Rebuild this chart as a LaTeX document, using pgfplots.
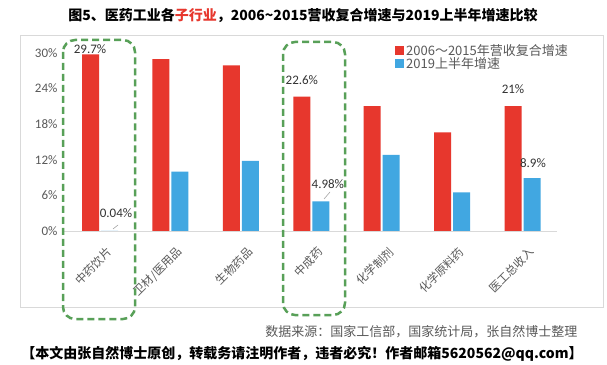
\documentclass[border=0pt]{standalone}
\usepackage{pgfplots}
\pgfplotsset{compat=1.18}
\usepackage{fontspec}
\setmainfont{Noto Sans CJK SC}
\newfontfamily\calfont{Carlito}
\definecolor{cred}{RGB}{231,55,45}
\definecolor{cblue}{RGB}{65,167,225}
\definecolor{cgreen}{RGB}{88,160,88}
\definecolor{cgray}{RGB}{89,89,89}
\definecolor{cframe}{RGB}{217,217,217}
\begin{document}
\begin{tikzpicture}[x=1pt,y=1pt]
\path[use as bounding box] (0,0) rectangle (607,364);
\fill[white] (0,0) rectangle (607,364);
\draw[cframe, line width=0.8pt] (20,57) rectangle (603,329);
\node[font=\fontsize{14}{16}\selectfont\bfseries] at (303,348) {图5、医药工业各\textcolor{cred}{子行业}，2006\textasciitilde2015营收复合增速与2019上半年增速比较};
\begin{axis}[
  at={(63pt,133pt)}, anchor=south west,
  scale only axis, width=494pt, height=178.3pt,
  xmin=-0.526, xmax=6.49, ymin=0, ymax=30,
  clip=false,
  axis lines*=left,
  x axis line style={draw=cframe, line width=0.8pt, -},
  y axis line style={draw=none},
  major tick length=0pt,
  xtick={0,...,6},
  xticklabels={中药饮片,卫材/医用品,生物药品,中成药,化学制剂,化学原料药,医工总收入},
  xticklabel style={rotate=45, anchor=east, font=\fontsize{11.5}{13}\selectfont, text=cgray, xshift=-3pt, yshift=-20pt},
  ytick={0,6,...,30},
  yticklabel={\pgfmathprintnumber{\tick}\%},
  /pgf/number format/assume math mode=true,
  yticklabel style={font=\calfont\fontsize{13}{15}\selectfont, text=cgray, xshift=-2pt},
  ybar, bar width=17pt,
  legend style={draw=none, fill=none, at={(0.672,1.06)}, anchor=north west,
    font=\fontsize{13}{15}\selectfont, text=cgray, row sep=-3pt, inner sep=0pt,
    /tikz/every even column/.append style={column sep=3pt}},
  legend cell align=left,
  legend image code/.code={\fill[#1,draw=none] (0pt,-4.5pt) rectangle (9pt,4.5pt);},
]
\addplot[fill=cred, draw=none, bar shift=-9.5pt] coordinates {(0,29.7) (1,28.9) (2,27.85) (3,22.6) (4,21.0) (5,16.6) (6,21.0)};
\addplot[fill=cblue, draw=none, bar shift=9.5pt] coordinates {(0,0.04) (1,10.0) (2,11.8) (3,4.98) (4,12.8) (5,6.5) (6,8.9)};
\legend{2006～2015年营收复合增速, 2019上半年增速}
\begin{scope}[font=\calfont\fontsize{13}{15}\selectfont, text=black!80]
\node at (axis cs:0,30.6) [xshift=-10pt] {29.7\%};
\node at (axis cs:0,3.03) [xshift=16pt] {0.04\%};
\node at (axis cs:3,25.4) [xshift=-9.4pt] {22.6\%};
\node at (axis cs:3,7.9) [xshift=16.6pt] {4.98\%};
\node at (axis cs:6,23.9) [xshift=-9.5pt] {21\%};
\node at (axis cs:6,11.4) [xshift=10.5pt] {8.9\%};
\end{scope}
\end{axis}
\draw[gray!70, line width=0.6pt] (113,135) -- (118,139);
\draw[gray!70, line width=0.6pt] (324,165) -- (330,172);
\draw[cgreen, line width=2.5pt, dash pattern=on 7pt off 4pt, rounded corners=12pt] (63,324) rectangle (135,45);
\draw[cgreen, line width=2.5pt, dash pattern=on 7pt off 4pt, rounded corners=12pt] (283,322) rectangle (345,49);
\node[anchor=east, font=\fontsize{13}{15}\selectfont, text=cgray] at (581,32) {数据来源：国家工信部，国家统计局，张自然博士整理};
\node[font=\fontsize{14}{16}\selectfont\bfseries] at (302,10) {【本文由张自然博士原创，转载务请注明作者，违者必究！作者邮箱5620562@qq.com】};
\end{tikzpicture}
\end{document}
